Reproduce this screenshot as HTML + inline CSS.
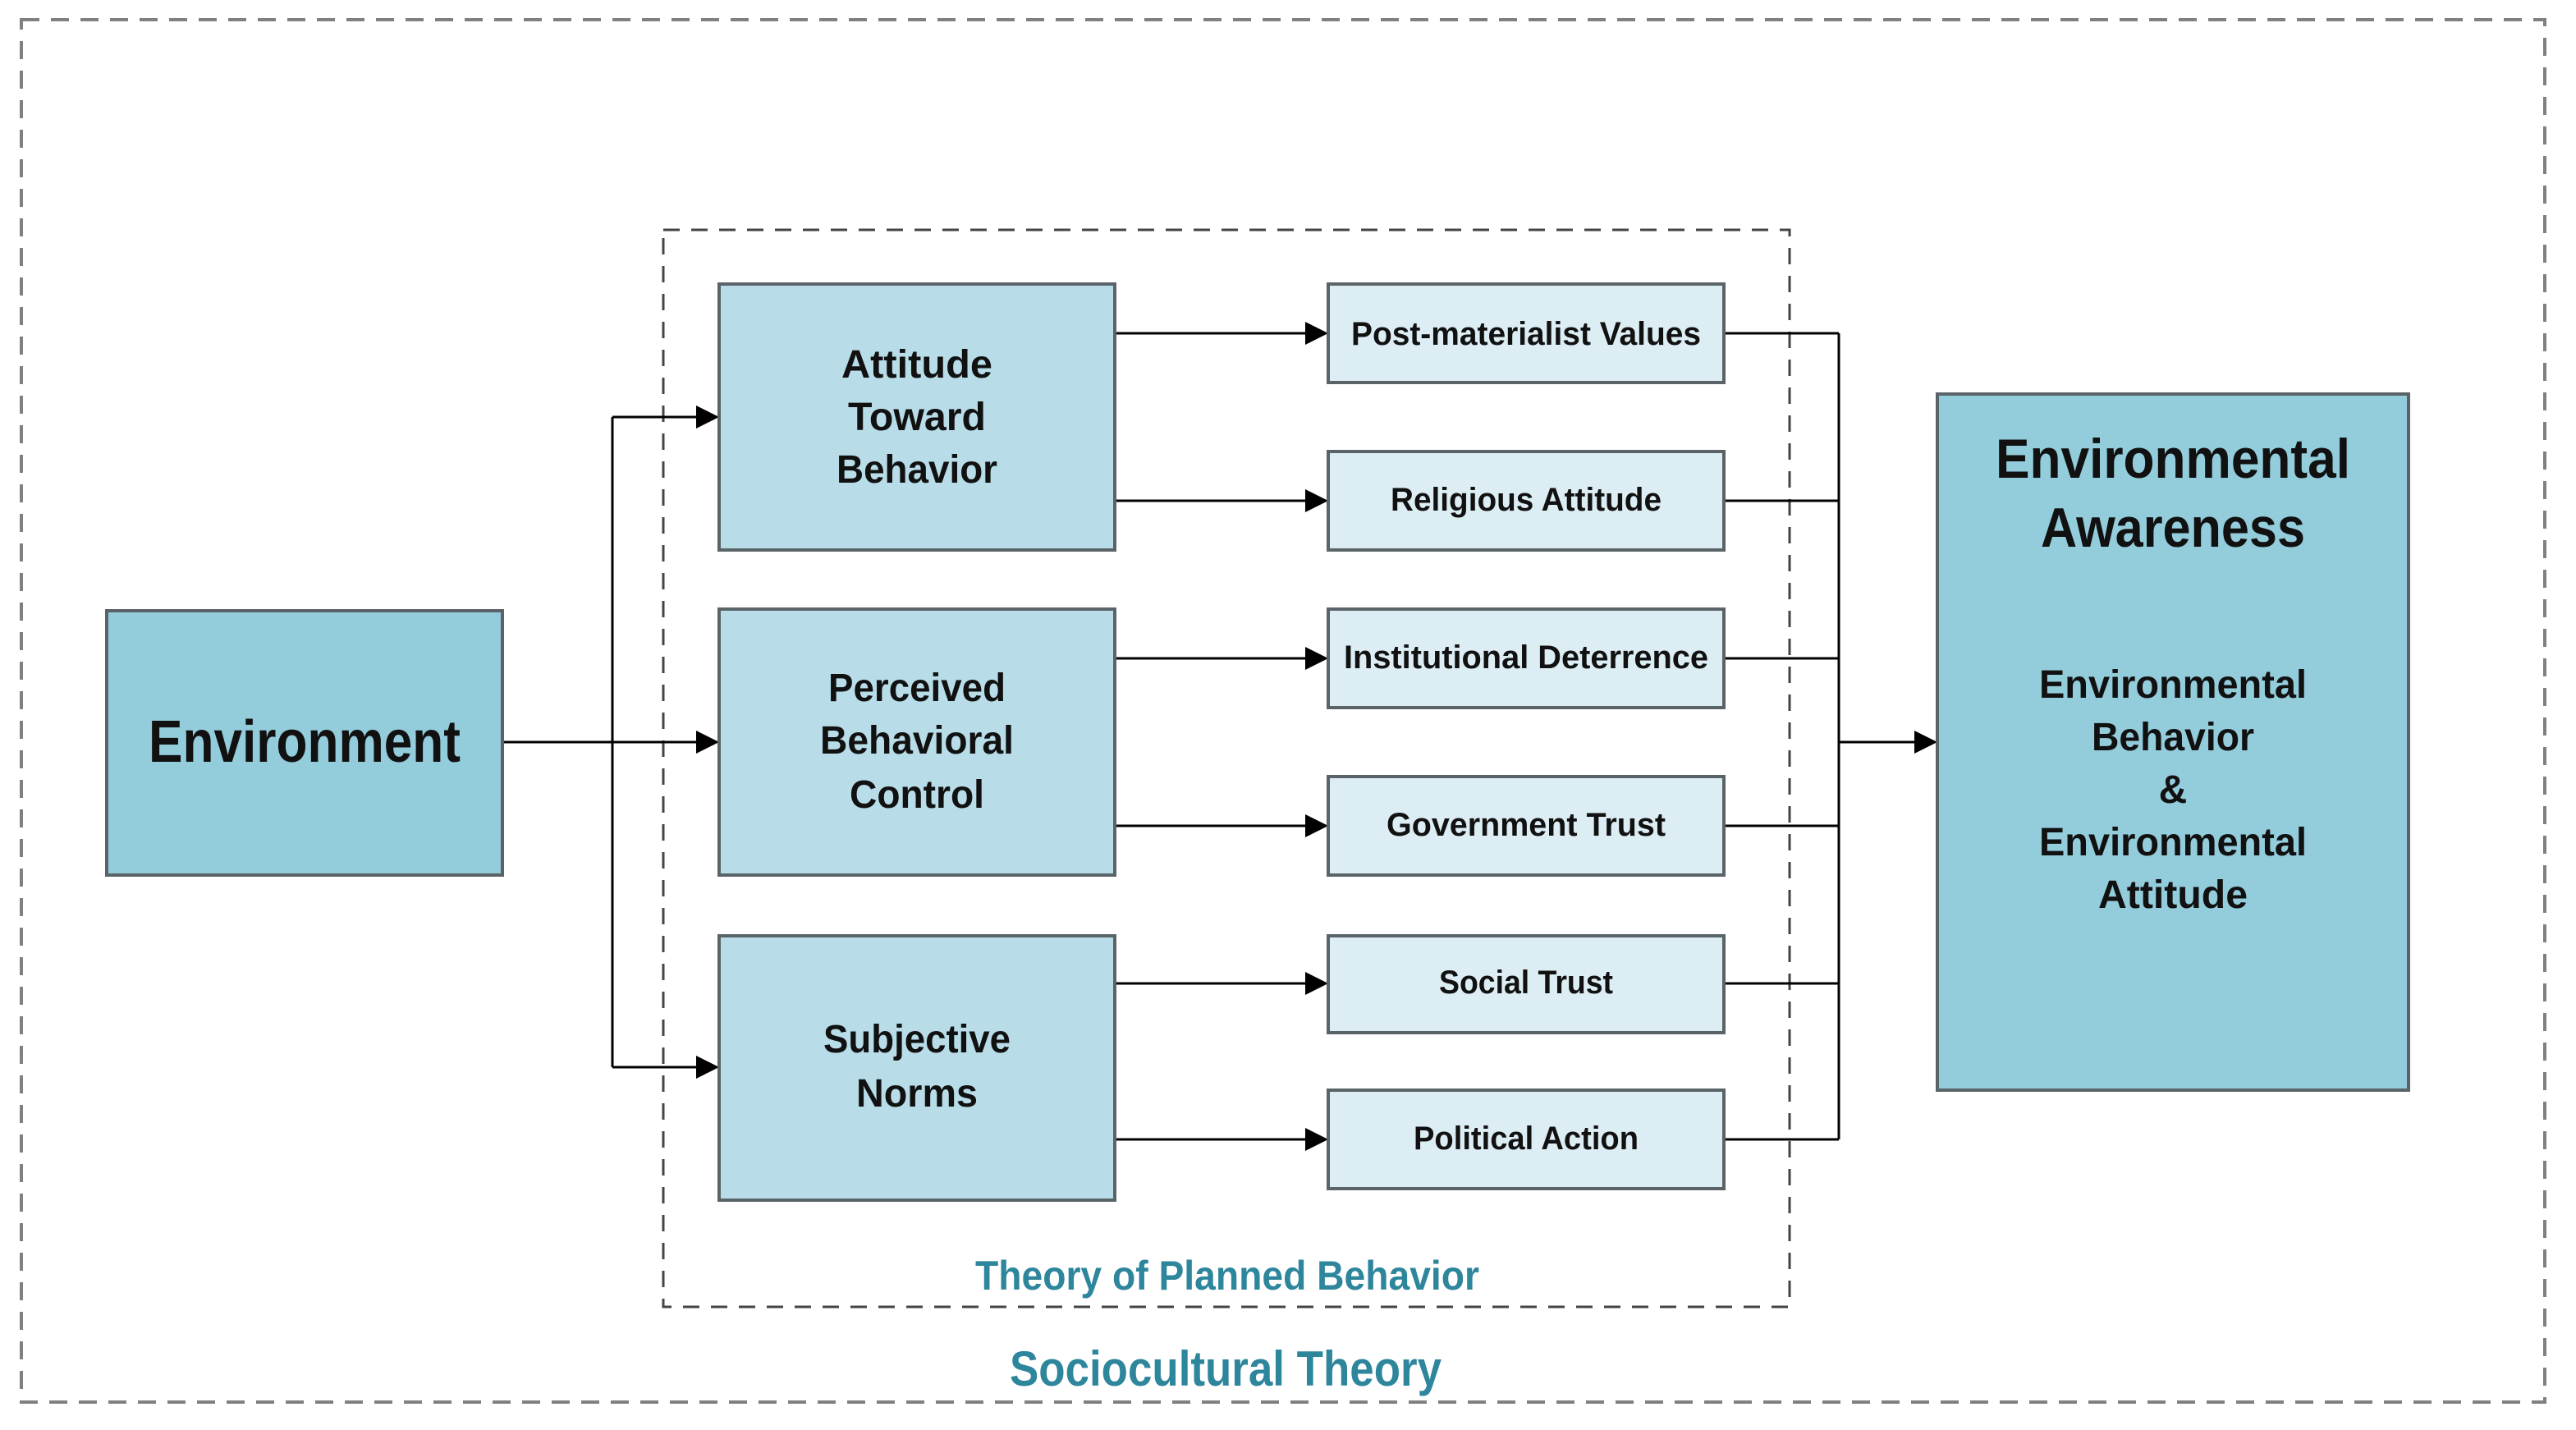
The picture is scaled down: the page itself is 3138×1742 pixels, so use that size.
<!DOCTYPE html>
<html><head><meta charset="utf-8"><style>html,body{margin:0;padding:0;background:#fff}svg{display:block}</style></head>
<body>
<svg width="3138" height="1742" viewBox="0 0 3138 1742" xmlns="http://www.w3.org/2000/svg" font-family="Liberation Sans, Arial, sans-serif" font-weight="bold">
<defs>
<marker id="a" markerWidth="10" markerHeight="10" refX="9" refY="5" orient="auto" markerUnits="userSpaceOnUse" viewBox="0 0 10 10">
</marker>
</defs>
<rect x="0" y="0" width="3138" height="1742" fill="#fff"/>
<!-- outer dashed -->
<rect x="26" y="24" width="3074" height="1684" fill="none" stroke="#808080" stroke-width="4" stroke-dasharray="22,14"/>
<!-- inner dashed -->
<rect x="808" y="280" width="1372" height="1312" fill="none" stroke="#444" stroke-width="3" stroke-dasharray="20,14"/>

<!-- connectors -->
<g stroke="#000" stroke-width="3" fill="none">
<line x1="612" y1="904" x2="856" y2="904"/>
<line x1="746" y1="508" x2="746" y2="1300"/>
<line x1="746" y1="508" x2="856" y2="508"/>
<line x1="746" y1="1300" x2="856" y2="1300"/>
<line x1="1358" y1="406" x2="1598" y2="406"/>
<line x1="1358" y1="610" x2="1598" y2="610"/>
<line x1="1358" y1="802" x2="1598" y2="802"/>
<line x1="1358" y1="1006" x2="1598" y2="1006"/>
<line x1="1358" y1="1198" x2="1598" y2="1198"/>
<line x1="1358" y1="1388" x2="1598" y2="1388"/>
<line x1="2100" y1="406" x2="2240" y2="406"/>
<line x1="2100" y1="610" x2="2240" y2="610"/>
<line x1="2100" y1="802" x2="2240" y2="802"/>
<line x1="2100" y1="1006" x2="2240" y2="1006"/>
<line x1="2100" y1="1198" x2="2240" y2="1198"/>
<line x1="2100" y1="1388" x2="2240" y2="1388"/>
<line x1="2240" y1="406" x2="2240" y2="1388"/>
<line x1="2240" y1="904" x2="2340" y2="904"/>
</g>
<g fill="#000">
<polygon points="876,508 848,494 848,522"/>
<polygon points="876,904 848,890 848,918"/>
<polygon points="876,1300 848,1286 848,1314"/>
<polygon points="1618,406 1590,392 1590,420"/>
<polygon points="1618,610 1590,596 1590,624"/>
<polygon points="1618,802 1590,788 1590,816"/>
<polygon points="1618,1006 1590,992 1590,1020"/>
<polygon points="1618,1198 1590,1184 1590,1212"/>
<polygon points="1618,1388 1590,1374 1590,1402"/>
<polygon points="2360,904 2332,890 2332,918"/>
</g>

<!-- boxes -->
<g stroke="#5a6468" stroke-width="4">
<rect x="130" y="744" width="482" height="322" fill="#93ccdb"/>
<rect x="876" y="346" width="482" height="324" fill="#b8dde8"/>
<rect x="876" y="742" width="482" height="324" fill="#b8dde8"/>
<rect x="876" y="1140" width="482" height="322" fill="#b8dde8"/>
<rect x="1618" y="346" width="482" height="120" fill="#dcedf3"/>
<rect x="1618" y="550" width="482" height="120" fill="#dcedf3"/>
<rect x="1618" y="742" width="482" height="120" fill="#dcedf3"/>
<rect x="1618" y="946" width="482" height="120" fill="#dcedf3"/>
<rect x="1618" y="1140" width="482" height="118" fill="#dcedf3"/>
<rect x="1618" y="1328" width="482" height="120" fill="#dcedf3"/>
<rect x="2360" y="480" width="574" height="848" fill="#93ccdb"/>
</g>

<g fill="#111" text-anchor="middle">
<text x="371" y="928" font-size="72" textLength="380" lengthAdjust="spacingAndGlyphs">Environment</text>

<text x="1117" y="460" font-size="48" textLength="184" lengthAdjust="spacingAndGlyphs">Attitude</text>
<text x="1117" y="524" font-size="48" textLength="168" lengthAdjust="spacingAndGlyphs">Toward</text>
<text x="1117" y="588" font-size="48" textLength="196" lengthAdjust="spacingAndGlyphs">Behavior</text>

<text x="1117" y="854" font-size="48" textLength="216" lengthAdjust="spacingAndGlyphs">Perceived</text>
<text x="1117" y="918" font-size="48" textLength="236" lengthAdjust="spacingAndGlyphs">Behavioral</text>
<text x="1117" y="984" font-size="48" textLength="164" lengthAdjust="spacingAndGlyphs">Control</text>

<text x="1117" y="1282" font-size="48" textLength="228" lengthAdjust="spacingAndGlyphs">Subjective</text>
<text x="1117" y="1348" font-size="48" textLength="148" lengthAdjust="spacingAndGlyphs">Norms</text>

<text x="1859" y="420" font-size="40" textLength="426" lengthAdjust="spacingAndGlyphs">Post-materialist Values</text>
<text x="1859" y="622" font-size="40" textLength="330" lengthAdjust="spacingAndGlyphs">Religious Attitude</text>
<text x="1859" y="814" font-size="40" textLength="444" lengthAdjust="spacingAndGlyphs">Institutional Deterrence</text>
<text x="1859" y="1018" font-size="40" textLength="340" lengthAdjust="spacingAndGlyphs">Government Trust</text>
<text x="1859" y="1210" font-size="40" textLength="212" lengthAdjust="spacingAndGlyphs">Social Trust</text>
<text x="1859" y="1400" font-size="40" textLength="274" lengthAdjust="spacingAndGlyphs">Political Action</text>

<text x="2647" y="582" font-size="68" textLength="432" lengthAdjust="spacingAndGlyphs">Environmental</text>
<text x="2647" y="666" font-size="68" textLength="322" lengthAdjust="spacingAndGlyphs">Awareness</text>
<text x="2647" y="850" font-size="48" textLength="326" lengthAdjust="spacingAndGlyphs">Environmental</text>
<text x="2647" y="914" font-size="48" textLength="198" lengthAdjust="spacingAndGlyphs">Behavior</text>
<text x="2647" y="978" font-size="48">&amp;</text>
<text x="2647" y="1042" font-size="48" textLength="326" lengthAdjust="spacingAndGlyphs">Environmental</text>
<text x="2647" y="1106" font-size="48" textLength="182" lengthAdjust="spacingAndGlyphs">Attitude</text>
</g>

<g fill="#2e869c" text-anchor="middle">
<text x="1495" y="1571" font-size="50" textLength="614" lengthAdjust="spacingAndGlyphs">Theory of Planned Behavior</text>
<text x="1493" y="1688" font-size="60" textLength="526" lengthAdjust="spacingAndGlyphs">Sociocultural Theory</text>
</g>
</svg>
</body></html>
